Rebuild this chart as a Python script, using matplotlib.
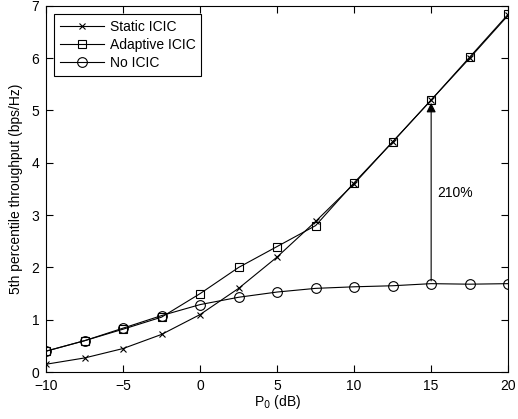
import numpy as np
import matplotlib.pyplot as plt

plt.rcParams['font.family'] = ['Liberation Sans', 'DejaVu Sans']
plt.rcParams['font.size'] = 10

p0 = [-10, -7.5, -5, -2.5, 0, 2.5, 5, 7.5, 10, 12.5, 15, 17.5, 20]
static_icic = [0.15, 0.27, 0.45, 0.72, 1.1, 1.6, 2.2, 2.88, 3.6, 4.4, 5.2, 6.0, 6.82]
adaptive_icic = [0.4, 0.6, 0.82, 1.05, 1.5, 2.0, 2.4, 2.8, 3.62, 4.4, 5.2, 6.02, 6.84]
no_icic = [0.4, 0.6, 0.84, 1.08, 1.29, 1.43, 1.53, 1.6, 1.63, 1.65, 1.69, 1.68, 1.69]

fig = plt.figure(figsize=(5.18, 4.19), dpi=100)
ax = fig.add_axes([0.089, 0.112, 0.892, 0.874])

ax.plot(p0, static_icic, 'k-x', lw=0.8, ms=5, mew=0.8, label='Static ICIC')
ax.plot(p0, adaptive_icic, 'k-s', lw=0.8, ms=6, mew=0.8, mfc='none', label='Adaptive ICIC')
ax.plot(p0, no_icic, 'k-o', lw=0.8, ms=7, mew=0.8, mfc='none', label='No ICIC')

# gain arrow at P0 = 15 dB
ax.annotate('', xy=(15, 5.2), xytext=(15, 1.69),
            arrowprops=dict(arrowstyle='-|>', color='k', lw=0.8, mutation_scale=14))
ax.text(15.39, 3.42, '210%', fontsize=10, va='center')

ax.set_xlim(-10, 20)
ax.set_ylim(0, 7)
ax.set_xticks([-10, -5, 0, 5, 10, 15, 20])
ax.set_yticks(range(8))
ax.tick_params(direction='in', top=True, right=True, labelsize=10, length=5)
ax.tick_params(axis='x', pad=5)
ax.tick_params(axis='y', pad=5)
ax.set_xlabel('P$_0$ (dB)', fontsize=10, labelpad=0)
ax.set_ylabel('5th percentile throughput (bps/Hz)', fontsize=10, labelpad=6)

leg = ax.legend(loc='upper left', fontsize=10, fancybox=False, framealpha=1,
                edgecolor='k', borderaxespad=0.6, handlelength=3.2, labelspacing=0.3,
                borderpad=0.4, handletextpad=0.4)
leg.get_frame().set_linewidth(0.8)

fig.savefig('out.png', dpi=100)
